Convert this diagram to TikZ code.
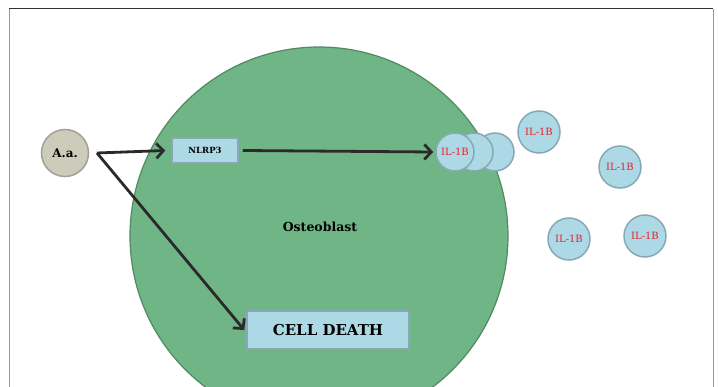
\documentclass[tikz,border=0pt]{standalone}
\usepackage{fontspec}
\setmainfont{DejaVu Serif}
\usetikzlibrary{arrows.meta}
\definecolor{cellgreen}{HTML}{6FB586}
\definecolor{cellborder}{HTML}{4F8A60}
\definecolor{lblue}{HTML}{ADD8E6}
\definecolor{bborder}{HTML}{86A9B5}
\definecolor{aafill}{HTML}{CDCBBA}
\definecolor{aaborder}{HTML}{A3A194}
\definecolor{ilred}{HTML}{E8202A}
\definecolor{arrowc}{HTML}{2A2A2A}
\tikzset{
  ilcirc/.style={circle, draw=bborder, line width=1.5pt, fill=lblue, minimum size=38pt, inner sep=0pt, text=ilred, font=\fontsize{10}{12}\selectfont},
  bluebox/.style={rectangle, draw=bborder, line width=1.5pt, fill=lblue, inner sep=0pt},
  conn/.style={draw=arrowc, line width=2.8pt, -{Straight Barb[length=7pt,width=15pt,line width=2.8pt]}}
}
\begin{document}
\begin{tikzpicture}[x=1pt,y=-1pt]
\useasboundingbox (0,0) rectangle (718,387);
\fill[white] (0,0) rectangle (718,387);
% frame
\draw[line width=1pt, color=gray!80] (9,9) -- (9,387);
\draw[line width=1pt, color=gray!80] (713,9) -- (713,387);
\draw[line width=1pt, color=black!80] (9,9) -- (713,9);
% cell
\begin{scope}
\clip (0,0) rectangle (718,387);
\node[circle, draw=cellborder, line width=1.2pt, fill=cellgreen, minimum size=378pt, inner sep=0pt] (cell) at (319,236) {};
\end{scope}
\node[font=\fontsize{12.5}{15}\selectfont\bfseries] (osteo) at (320,227) {Osteoblast};
% A.a.
\node[circle, draw=aaborder, line width=1.5pt, fill=aafill, minimum size=47pt, inner sep=0pt, font=\fontsize{12}{14}\selectfont\bfseries] (aa) at (65,153) {A.a.};
\coordinate (aaout) at (97,153);
% NLRP3
\node[bluebox, minimum width=66pt, minimum height=25pt, font=\fontsize{8.5}{10}\selectfont\bfseries] (nlrp) at (205,150.5) {NLRP3};
% cell death
\node[bluebox, minimum width=162pt, minimum height=38pt, font=\fontsize{15}{18}\selectfont\bfseries] (death) at (328,330) {CELL DEATH};
% IL-1B cluster
\node[ilcirc] (c3) at (495,152) {};
\node[ilcirc] (c2) at (474,152) {};
\node[ilcirc] (c1) at (455,152) {IL-1B};
\node[ilcirc, minimum size=42pt] (i1) at (539,132) {IL-1B};
\node[ilcirc, minimum size=42pt] (i2) at (620,167) {IL-1B};
\node[ilcirc, minimum size=42pt] (i3) at (569,239) {IL-1B};
\node[ilcirc, minimum size=42pt] (i4) at (645,236) {IL-1B};
% connectors
\draw[conn] (aaout) -- ([xshift=-6pt]nlrp.west);
\draw[conn] (aaout) -- ([xshift=-2pt]death.west);
\draw[conn] ([xshift=4pt]nlrp.east) -- ([xshift=-2pt]c1.west);
\end{tikzpicture}
\end{document}
